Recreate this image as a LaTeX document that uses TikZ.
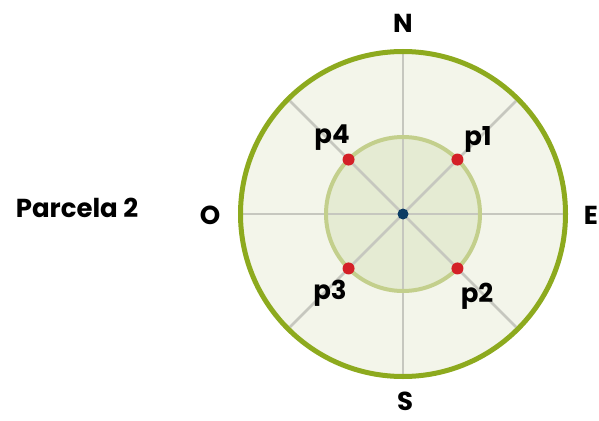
\documentclass[tikz,border=0pt]{standalone}
\usepackage{fontspec}
\setmainfont{Poppins}
\usetikzlibrary{positioning}

\definecolor{ringgreen}{HTML}{8DAA1E}
\definecolor{ringpale}{HTML}{C3CF8C}
\definecolor{fillout}{HTML}{F3F5EA}
\definecolor{fillin}{HTML}{E5EBD3}
\definecolor{spoke}{HTML}{C6C7BF}
\definecolor{ptred}{HTML}{D42027}
\definecolor{ctrblue}{HTML}{0C3C64}

\begin{document}
\begin{tikzpicture}[
        x=1pt, y=-1pt,
        every node/.style={font=\bfseries\fontsize{26}{28}\selectfont, text=black},
        outerdisc/.style={circle, minimum size=325pt, inner sep=0pt, outer sep=0pt},
        innerdisc/.style={circle, minimum size=154pt, inner sep=0pt, outer sep=0pt},
        spokeline/.style={draw=spoke, line width=2.8pt},
        dot/.style={circle, fill=ptred, minimum size=12pt, inner sep=0pt},
        hub/.style={circle, fill=ctrblue, minimum size=11pt, inner sep=0pt},
        lbl/.style={inner sep=0pt}
    ]
        \useasboundingbox (0,0) rectangle (599,420);

        \node[outerdisc, fill=fillout] (outer) at (403,214) {};
        \node[innerdisc, fill=fillin] (inner) at (outer.center) {};

        % spokes
        \draw[spokeline] (outer.north) -- (outer.south);
        \draw[spokeline] (outer.west) -- (outer.east);
        \draw[spokeline] (outer.45) -- (outer.225);
        \draw[spokeline] (outer.135) -- (outer.315);

        \node[innerdisc, draw=ringpale, line width=4pt] (ring) at (outer.center) {};
        \node[outerdisc, draw=ringgreen, line width=5pt] (rim) at (outer.center) {};

        \node[hub] (c) at (outer.center) {};
        \node[dot] (d1) at (inner.45) {};
        \node[dot] (d2) at (inner.-45) {};
        \node[dot] (d3) at (inner.-135) {};
        \node[dot] (d4) at (inner.135) {};

        \node[lbl] (p1) at (478,139) {p1};
        \node[lbl] (p2) at (477,296) {p2};
        \node[lbl] (p3) at (330,293) {p3};
        \node[lbl] (p4) at (332,138) {p4};

        \node[lbl] (n) at (403,23) {N};
        \node[lbl] (e) at (591,215) {E};
        \node[lbl] (s) at (405,401) {S};
        \node[lbl] (o) at (210,215) {O};

        \node[lbl] (parcela) at (77,208) {Parcela 2};
    \end{tikzpicture}
\end{document}
